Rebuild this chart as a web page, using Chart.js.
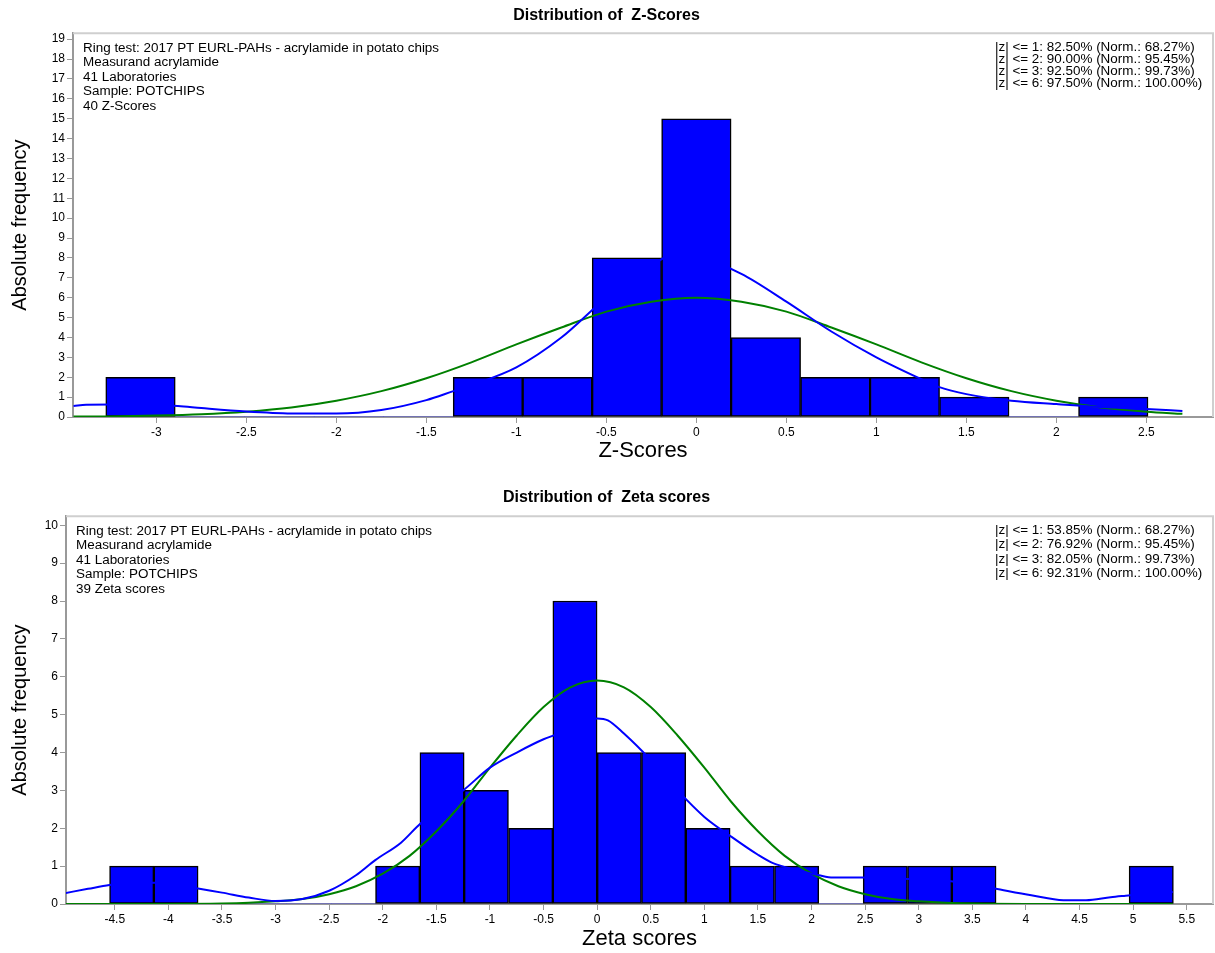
<!DOCTYPE html>
<html>
<head>
<meta charset="utf-8">
<script src="https://cdn.jsdelivr.net/npm/chart.js@4.4.0/dist/chart.umd.min.js"></script>
<style>
  html, body { margin: 0; padding: 0; background: #fff; }
  #wrap { position: relative; width: 1215px; height: 953px; }
  .box { position: absolute; left: 0; width: 1215px; }
  #topBox { top: 0; height: 470px; }
  #botBox { top: 470px; height: 483px; }
</style>
</head>
<body>
<div id="wrap">
  <div class="box" id="topBox"><canvas id="zChart"></canvas></div>
  <div class="box" id="botBox"><canvas id="zetaChart"></canvas></div>
</div>
<script>
// --- Z-Scores (top) ---
const zBinCenters = [-3.088, -2.702, -2.316, -1.93, -1.544, -1.158, -0.772, -0.386, 0, 0.386, 0.772, 1.158, 1.544, 1.93, 2.316];
const zCounts     = [2, 0, 0, 0, 0, 2, 2, 8, 15, 4, 2, 2, 1, 0, 1];
const zKernelX = [-3.46, -3.39, -3.25, -3.0, -2.88, -2.75, -2.5, -2.25, -2.0, -1.75, -1.5, -1.35, -1.25, -1.0, -0.75, -0.5, -0.25, -0.12, 0, 0.25, 0.5, 0.75, 1.0, 1.25, 1.35, 1.5, 1.75, 2.0, 2.25, 2.5, 2.7];
const zKernelY = [0.55, 0.62, 0.63, 0.6, 0.55, 0.45, 0.28, 0.18, 0.17, 0.35, 0.85, 1.3, 1.6, 2.5, 4.0, 6.0, 7.6, 8.2, 8.1, 7.2, 5.8, 4.3, 3.0, 1.9, 1.5, 1.15, 0.82, 0.65, 0.5, 0.4, 0.3];
const zNormX = [-3.46, -3.25, -3.0, -2.75, -2.5, -2.25, -2.0, -1.75, -1.5, -1.25, -1.0, -0.75, -0.5, -0.25, 0, 0.25, 0.5, 0.75, 1.0, 1.25, 1.5, 1.75, 2.0, 2.25, 2.5, 2.7];
const zNormY = [0.02, 0.03, 0.07, 0.14, 0.27, 0.48, 0.82, 1.3, 1.95, 2.75, 3.65, 4.5, 5.3, 5.8, 6.0, 5.8, 5.3, 4.5, 3.65, 2.75, 1.95, 1.3, 0.82, 0.48, 0.27, 0.16];
const zXTicks = [-3, -2.5, -2, -1.5, -1, -0.5, 0, 0.5, 1, 1.5, 2, 2.5];
const zYTicks = [0, 1, 2, 3, 4, 5, 6, 7, 8, 9, 10, 11, 12, 13, 14, 15, 16, 17, 18, 19];
const zInfo = ['Ring test: 2017 PT EURL-PAHs - acrylamide in potato chips', 'Measurand acrylamide', '41 Laboratories', 'Sample: POTCHIPS', '40 Z-Scores'];
const zStats = ['|z| <= 1: 82.50% (Norm.: 68.27%)', '|z| <= 2: 90.00% (Norm.: 95.45%)', '|z| <= 3: 92.50% (Norm.: 99.73%)', '|z| <= 6: 97.50% (Norm.: 100.00%)'];

// --- Zeta scores (bottom) ---
const zetaBinCenters = [-4.342, -3.929, -3.515, -3.102, -2.688, -2.274, -1.861, -1.447, -1.034, -0.620, -0.207, 0.207, 0.620, 1.034, 1.447, 1.861, 2.274, 2.688, 3.102, 3.515, 3.929, 4.342, 4.756, 5.169];
const zetaCounts     = [1, 1, 0, 0, 0, 0, 1, 4, 3, 2, 8, 4, 4, 2, 1, 1, 0, 1, 1, 1, 0, 0, 0, 1];
const zetaKernelX = [-4.96, -4.75, -4.55, -4.35, -4.13, -3.9, -3.71, -3.5, -3.25, -3.0, -2.75, -2.5, -2.25, -2.07, -1.83, -1.68, -1.5, -1.25, -1.0, -0.75, -0.5, -0.25, 0, 0.1, 0.25, 0.5, 0.75, 1.0, 1.24, 1.5, 1.64, 1.86, 2.07, 2.2, 2.47, 2.75, 3.0, 3.3, 3.5, 3.71, 4.05, 4.35, 4.56, 4.79, 4.93, 5.15, 5.37];
const zetaKernelY = [0.29, 0.4, 0.5, 0.55, 0.56, 0.5, 0.4, 0.3, 0.17, 0.08, 0.13, 0.35, 0.76, 1.16, 1.62, 2.04, 2.5, 3.0, 3.6, 4.0, 4.35, 4.6, 4.9, 4.85, 4.5, 3.8, 3.0, 2.3, 1.8, 1.3, 1.08, 0.9, 0.76, 0.7, 0.7, 0.68, 0.65, 0.6, 0.52, 0.41, 0.23, 0.1, 0.1, 0.18, 0.22, 0.28, 0.32];
const zetaNormX = [-4.96, -4.5, -4.0, -3.5, -3.25, -3.0, -2.75, -2.5, -2.25, -2.0, -1.75, -1.5, -1.25, -1.0, -0.75, -0.5, -0.25, 0, 0.25, 0.5, 0.75, 1.0, 1.25, 1.5, 1.75, 2.0, 2.25, 2.5, 2.75, 3.0, 3.25, 3.5, 4.0, 4.5, 5.0, 5.37];
const zetaNormY = [0, 0, 0, 0.01, 0.03, 0.07, 0.13, 0.26, 0.47, 0.8, 1.27, 1.92, 2.7, 3.6, 4.45, 5.2, 5.72, 5.9, 5.72, 5.2, 4.45, 3.6, 2.7, 1.92, 1.27, 0.8, 0.47, 0.26, 0.13, 0.07, 0.03, 0.01, 0, 0, 0, 0];
const zetaXTicks = [-4.5, -4, -3.5, -3, -2.5, -2, -1.5, -1, -0.5, 0, 0.5, 1, 1.5, 2, 2.5, 3, 3.5, 4, 4.5, 5, 5.5];
const zetaYTicks = [0, 1, 2, 3, 4, 5, 6, 7, 8, 9, 10];
const zetaInfo = ['Ring test: 2017 PT EURL-PAHs - acrylamide in potato chips', 'Measurand acrylamide', '41 Laboratories', 'Sample: POTCHIPS', '39 Zeta scores'];
const zetaStats = ['|z| <= 1: 53.85% (Norm.: 68.27%)', '|z| <= 2: 76.92% (Norm.: 95.45%)', '|z| <= 3: 82.05% (Norm.: 99.73%)', '|z| <= 6: 92.31% (Norm.: 100.00%)'];

Chart.defaults.font.family = '"Liberation Sans", Arial, sans-serif';
Chart.defaults.color = '#000';

// frame + the two text blocks inside the plot
const notesPlugin = {
    id: 'notes',
    afterDraw(chart, args, opts) {
        const { ctx, chartArea: a } = chart;
        ctx.save();
        ctx.strokeStyle = '#cfcfcf';
        ctx.lineWidth = 2;
        ctx.beginPath();
        ctx.moveTo(a.left, a.top);
        ctx.lineTo(a.right, a.top);
        ctx.lineTo(a.right, a.bottom);
        ctx.stroke();
        ctx.font = '12px "Liberation Sans", Arial, sans-serif';
        ctx.fillStyle = '#000';
        ctx.textBaseline = 'middle';
        ctx.textAlign = 'left';
        const put = (t, x, y) => {
            ctx.save();
            ctx.translate(x, y);
            ctx.scale(1.12, 1); // source text is a little wider than it is tall
            ctx.fillText(t, 0, 0);
            ctx.restore();
        };
        opts.left.forEach((t, i) => put(t, a.left + 10, a.top + 15 + i * 14.5));
        opts.right.forEach((t, i) => put(t, a.right - 218, a.top + 14 + i * opts.rightStep));
        ctx.restore();
    }
};

function axis(tickVals, fixedSize, isX, extra) {
    return Object.assign({
        type: 'linear',
        offset: false,
        afterBuildTicks: s => { s.ticks = tickVals.map(v => ({ value: v })); },
        afterFit: s => { if (isX) s.height = fixedSize; else s.width = fixedSize; },
        grid: { drawOnChartArea: false, tickLength: 6, color: '#999', offset: false },
        border: { color: '#999', width: 2 },
        ticks: { font: { size: 12 }, color: '#000', padding: 2, maxRotation: 0, autoSkip: false, callback: v => String(v) }
    }, extra);
}

function makeChart(id, c) {
    return new Chart(document.getElementById(id), {
        type: 'bar',
        data: {
            datasets: [
                {
                    type: 'line', label: 'Kernel density', order: 0,
                    data: c.kx.map((x, i) => ({ x, y: c.ky[i] })),
                    borderColor: '#0000ff', borderWidth: 2, pointRadius: 0, fill: false,
                    cubicInterpolationMode: 'monotone'
                },
                {
                    type: 'line', label: 'Normal', order: 1,
                    data: c.nx.map((x, i) => ({ x, y: c.ny[i] })),
                    borderColor: '#008000', borderWidth: 2, pointRadius: 0, fill: false,
                    cubicInterpolationMode: 'monotone'
                },
                {
                    type: 'bar', label: 'Frequency', order: 2,
                    data: c.centers.map((x, i) => ({ x, y: c.counts[i] })),
                    backgroundColor: '#0000ff', borderColor: '#000',
                    borderWidth: ctx => (ctx.raw && ctx.raw.y > 0 ? 1.5 : 0),
                    borderSkipped: false, barPercentage: 1, categoryPercentage: 1
                }
            ]
        },
        options: {
            responsive: true,
            maintainAspectRatio: false,
            animation: false,
            layout: { padding: { left: 0, right: 2, top: 0, bottom: 0 } },
            plugins: {
                legend: { display: false },
                tooltip: { enabled: false },
                title: {
                    display: true, text: c.title, color: '#000',
                    font: { size: 16, weight: 'bold' },
                    padding: c.titlePad
                },
                notes: { left: c.info, right: c.stats, rightStep: c.rightStep }
            },
            scales: {
                x: axis(c.xTicks, c.xHeight, true, {
                    min: c.xMin, max: c.xMax,
                    title: { display: true, text: c.xTitle, font: { size: 22 }, color: '#000', padding: { top: 0, bottom: c.xTitlePad } }
                }),
                y: axis(c.yTicks, c.yWidth, false, {
                    min: 0, max: c.yMax,
                    title: { display: true, text: 'Absolute frequency', font: { size: 20 }, color: '#000', padding: { top: 8, bottom: 0 } }
                })
            }
        },
        plugins: [notesPlugin]
    });
}

makeChart('zChart', {
    title: 'Distribution of  Z-Scores', titlePad: { top: 6, bottom: 8 },
    centers: zBinCenters, counts: zCounts, kx: zKernelX, ky: zKernelY, nx: zNormX, ny: zNormY,
    xTicks: zXTicks, yTicks: zYTicks, xMin: -3.463, xMax: 2.87, yMax: 19.3,
    xHeight: 53, yWidth: 73, xTitle: 'Z-Scores', xTitlePad: 6,
    info: zInfo, stats: zStats, rightStep: 12
});

makeChart('zetaChart', {
    title: 'Distribution of  Zeta scores', titlePad: { top: 18, bottom: 9 },
    centers: zetaBinCenters, counts: zetaCounts, kx: zetaKernelX, ky: zetaKernelY, nx: zetaNormX, ny: zetaNormY,
    xTicks: zetaXTicks, yTicks: zetaYTicks, xMin: -4.955, xMax: 5.745, yMax: 10.24,
    xHeight: 49, yWidth: 66, xTitle: 'Zeta scores', xTitlePad: 1,
    info: zetaInfo, stats: zetaStats, rightStep: 14.6
});
</script>
</body>
</html>
